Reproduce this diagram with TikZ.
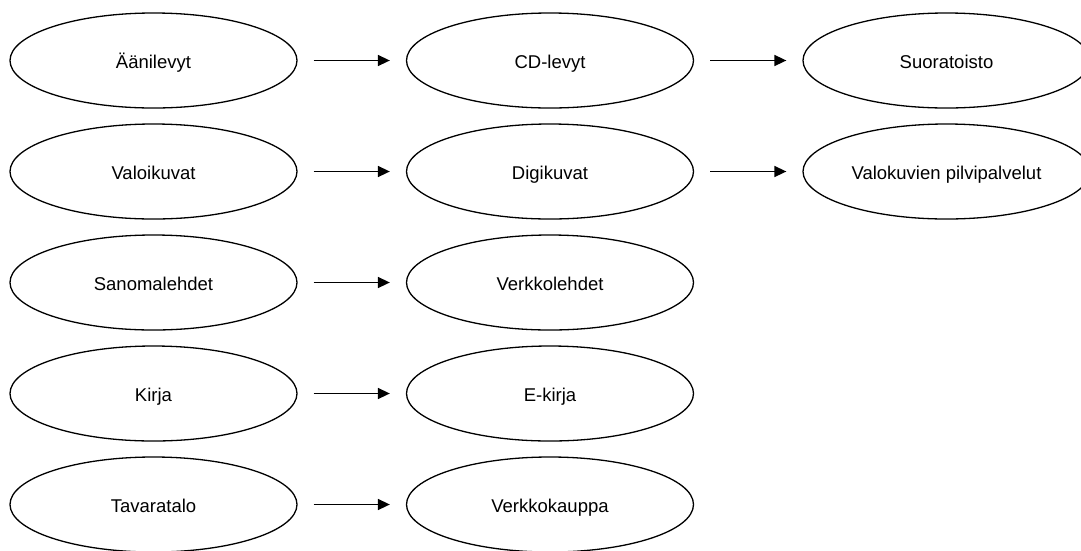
\documentclass[tikz,border=0pt]{standalone}
\usepackage{fontspec}
\setmainfont{Liberation Sans}
\usetikzlibrary{shapes.geometric,arrows.meta}
\begin{document}
\begin{tikzpicture}[x=1pt,y=-1pt,
  oval/.style={ellipse,draw,line width=1.3pt,minimum width=287pt,minimum height=95pt,inner sep=0pt,text height=19pt,text depth=4pt,font=\fontsize{18.5}{22}\selectfont},
  conn/.style={line width=1.6pt,-{Triangle[length=12pt,width=11pt]},shorten <=16pt,shorten >=16pt}]
\useasboundingbox (0,0) rectangle (1081,550);
\node[oval] (a1) at (153.5,60.5) {Äänilevyt};
\node[oval] (a2) at (550,60.5) {CD-levyt};
\node[oval] (a3) at (946.5,60.5) {Suoratoisto};
\node[oval] (b1) at (153.5,171.5) {Valoikuvat};
\node[oval] (b2) at (550,171.5) {Digikuvat};
\node[oval] (b3) at (946.5,171.5) {Valokuvien pilvipalvelut};
\node[oval] (c1) at (153.5,282.5) {Sanomalehdet};
\node[oval] (c2) at (550,282.5) {Verkkolehdet};
\node[oval] (d1) at (153.5,393.5) {Kirja};
\node[oval] (d2) at (550,393.5) {E-kirja};
\node[oval] (e1) at (153.5,504.5) {Tavaratalo};
\node[oval] (e2) at (550,504.5) {Verkkokauppa};
\draw[conn] (a1) -- (a2);
\draw[conn] (a2) -- (a3);
\draw[conn] (b1) -- (b2);
\draw[conn] (b2) -- (b3);
\draw[conn] (c1) -- (c2);
\draw[conn] (d1) -- (d2);
\draw[conn] (e1) -- (e2);
\end{tikzpicture}
\end{document}
